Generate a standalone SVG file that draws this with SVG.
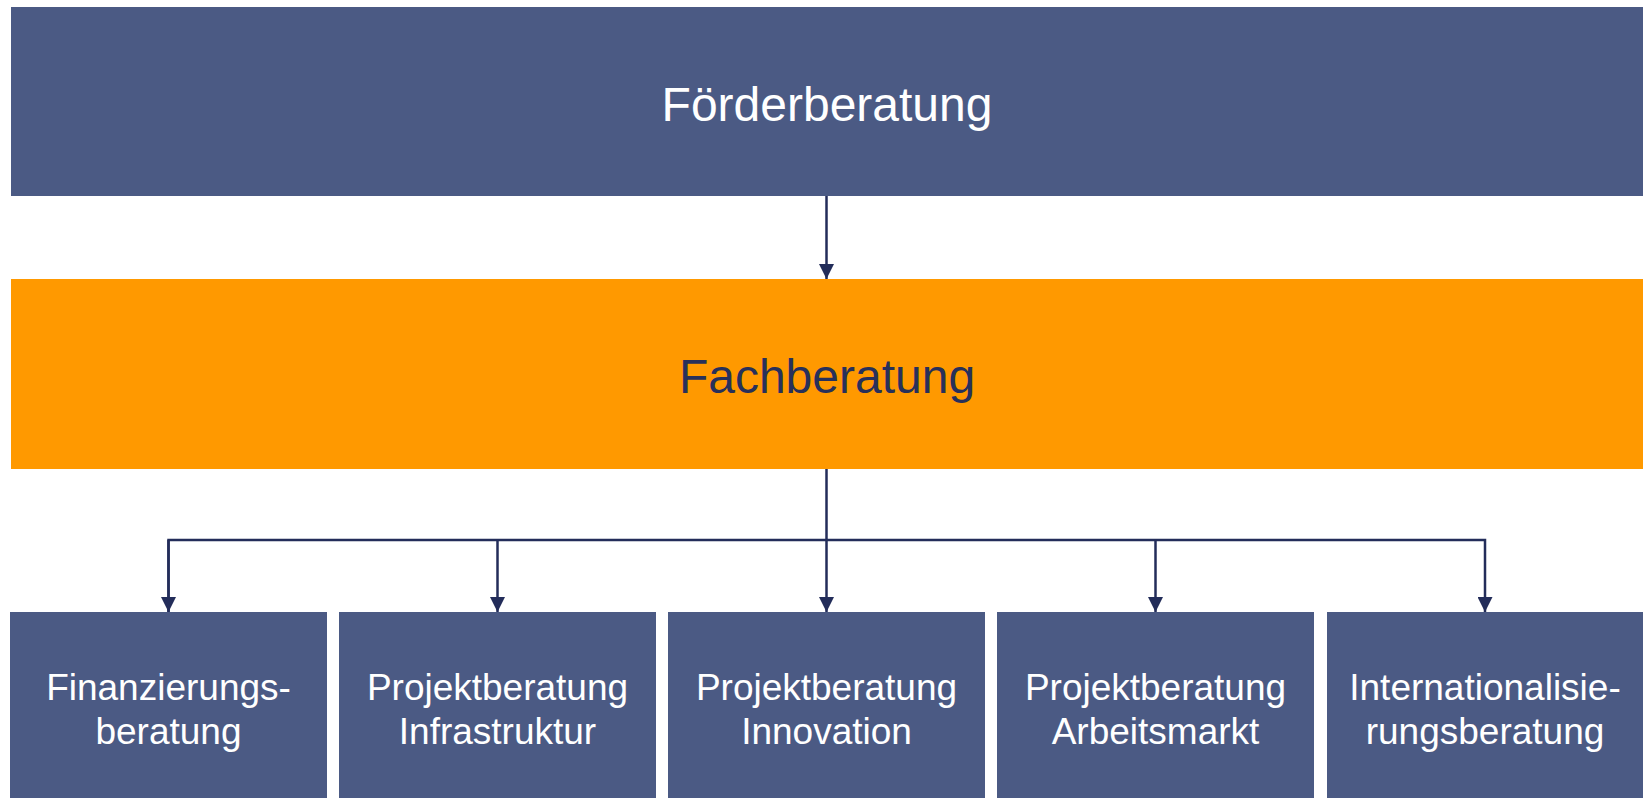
<svg xmlns="http://www.w3.org/2000/svg" width="1643" height="798" viewBox="0 0 1643 798">
<defs>
<style>
.box{fill:#4b5a84}
.big{font-family:"Liberation Sans",Arial,sans-serif;font-size:48px;text-anchor:middle}
.small{font-family:"Liberation Sans",Arial,sans-serif;font-size:37px;text-anchor:middle;fill:#ffffff}
.conn{stroke:#232d5a;stroke-width:2.5;fill:none}
</style>
<marker id="ah" markerWidth="15" markerHeight="15" viewBox="0 0 15 15" refX="15" refY="7.5" orient="auto" markerUnits="userSpaceOnUse">
<path d="M0,0 L15,7.5 L0,15 Z" fill="#232d5a"/>
</marker>
</defs>
<rect width="1643" height="798" fill="#ffffff"/>
<g id="foerderberatung">
<rect class="box" x="11" y="7" width="1632" height="189"/>
<text class="big" x="827" y="121" fill="#ffffff">Förderberatung</text>
</g>
<g id="fachberatung">
<rect x="11" y="279" width="1632" height="190" fill="#ff9900"/>
<text class="big" x="827" y="393" fill="#28305a">Fachberatung</text>
</g>
<g id="finanzierung">
<rect class="box" x="10" y="612" width="317" height="186"/>
<text class="small" x="168.5" y="700">Finanzierungs-</text>
<text class="small" x="168.5" y="744">beratung</text>
</g>
<g id="infrastruktur">
<rect class="box" x="339" y="612" width="317" height="186"/>
<text class="small" x="497.5" y="700">Projektberatung</text>
<text class="small" x="497.5" y="744">Infrastruktur</text>
</g>
<g id="innovation">
<rect class="box" x="668" y="612" width="317" height="186"/>
<text class="small" x="826.5" y="700">Projektberatung</text>
<text class="small" x="826.5" y="744">Innovation</text>
</g>
<g id="arbeitsmarkt">
<rect class="box" x="997" y="612" width="317" height="186"/>
<text class="small" x="1155.5" y="700">Projektberatung</text>
<text class="small" x="1155.5" y="744">Arbeitsmarkt</text>
</g>
<g id="internationalisierung">
<rect class="box" x="1327" y="612" width="316" height="186"/>
<text class="small" x="1485" y="700">Internationalisie-</text>
<text class="small" x="1485" y="744">rungsberatung</text>
</g>
<g id="connectors">
<path class="conn" d="M826.5,196 V279" marker-end="url(#ah)"/>
<path class="conn" d="M826.5,469 V540"/>
<path class="conn" d="M168.5,612 V540 H1485 V612" marker-end="url(#ah)"/>
<path class="conn" d="M168.5,540 V612" marker-end="url(#ah)"/>
<path class="conn" d="M497.5,540 V612" marker-end="url(#ah)"/>
<path class="conn" d="M826.5,540 V612" marker-end="url(#ah)"/>
<path class="conn" d="M1155.5,540 V612" marker-end="url(#ah)"/>
</g>
</svg>
